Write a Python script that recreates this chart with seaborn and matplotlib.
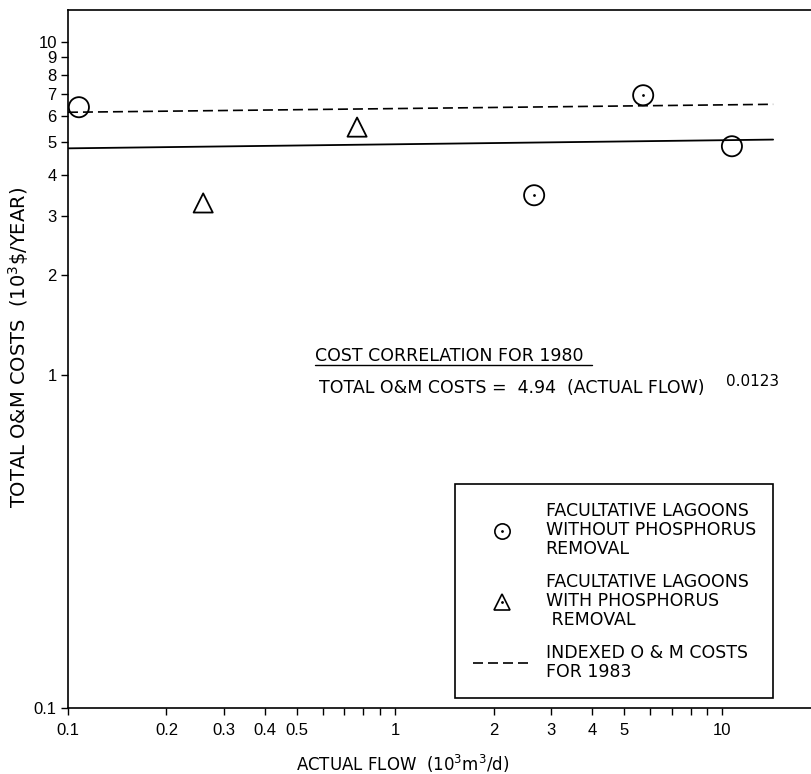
import matplotlib
matplotlib.use("Agg")
import matplotlib.pyplot as plt
import seaborn as sns
from matplotlib.lines import Line2D
from matplotlib.ticker import FixedLocator, NullFormatter, FixedFormatter

# data (log-log axes)
flow_without = [0.108, 2.66, 5.73, 10.7]
cost_without = [6.38, 3.47, 6.93, 4.87]
dotted_without = [False, True, True, False]
flow_with = [0.259, 0.765]
cost_with = [3.29, 5.56]
line_flow = [0.1, 14.3]
cost_1980 = [4.80, 5.10]
cost_1983 = [6.16, 6.51]

x_ticks = [0.1, 0.2, 0.3, 0.4, 0.5, 1, 2, 3, 4, 5, 10]
x_tick_labels = ["0.1", "0.2", "0.3", "0.4", "0.5", "1", "2", "3", "4", "5", "10"]
x_minor = [0.6, 0.7, 0.8, 0.9, 6, 7, 8, 9]
y_ticks = [0.1, 1, 2, 3, 4, 5, 6, 7, 8, 9, 10]
y_tick_labels = ["0.1", "1", "2", "3", "4", "5", "6", "7", "8", "9", "10"]

sns.set_style("white")
plt.rcParams["font.family"] = ["DejaVu Sans"]
plt.rcParams["text.color"] = "black"
plt.rcParams["axes.labelcolor"] = "black"
plt.rcParams["xtick.color"] = "black"
plt.rcParams["ytick.color"] = "black"
TICK_FONT = ["Liberation Sans", "DejaVu Sans"]

fig = plt.figure(figsize=(8.12, 7.74), dpi=100)
ax = fig.add_axes([0.0837, 0.0853, 0.9163, 0.9018])
ax.set_xscale("log")
ax.set_yscale("log")

sns.lineplot(x=line_flow, y=cost_1980, ax=ax, color="black", lw=1.3)
sns.lineplot(x=line_flow, y=cost_1983, ax=ax, color="black", lw=1.2,
             linestyle=(0, (6, 3)))
sns.scatterplot(x=flow_without, y=cost_without, ax=ax, marker="o", s=210,
                facecolor="none", edgecolor="black", linewidth=1.3, zorder=5)
sns.scatterplot(x=[f for f, d in zip(flow_without, dotted_without) if d],
                y=[c for c, d in zip(cost_without, dotted_without) if d],
                ax=ax, marker="o", s=4, color="black", linewidth=0, zorder=6)
sns.scatterplot(x=flow_with, y=cost_with, ax=ax, marker="^", s=190,
                facecolor="none", edgecolor="black", linewidth=1.3, zorder=5)

ax.set_xlim(0.1, 18.8)
ax.set_ylim(0.1, 12.5)

ax.xaxis.set_major_locator(FixedLocator(x_ticks))
ax.xaxis.set_major_formatter(FixedFormatter(x_tick_labels))
ax.xaxis.set_minor_locator(FixedLocator(x_minor))
ax.xaxis.set_minor_formatter(NullFormatter())
ax.yaxis.set_major_locator(FixedLocator(y_ticks))
ax.yaxis.set_major_formatter(FixedFormatter(y_tick_labels))
ax.yaxis.set_minor_locator(FixedLocator([]))

ax.tick_params(axis="both", which="both", direction="out", length=5, width=1,
               color="black", labelcolor="black", labelsize=12,
               bottom=True, left=True)
ax.tick_params(axis="x", pad=6)
ax.tick_params(axis="y", pad=3)
for lbl in ax.get_xticklabels() + ax.get_yticklabels():
    lbl.set_family(TICK_FONT)

for side in ["left", "bottom", "top"]:
    ax.spines[side].set_color("black")
    ax.spines[side].set_linewidth(1.2)
ax.spines["right"].set_visible(False)

ax.set_xlabel("ACTUAL FLOW  (10$^3$m$^3$/d)", fontsize=12)
ax.xaxis.set_label_coords(0.45, -0.065)
ax.set_ylabel("TOTAL O&M COSTS  (10$^3$\\$/YEAR)", fontsize=14)
ax.yaxis.set_label_coords(-0.05, 0.516)

# correlation note
ax.text(0.332, 0.497, "COST CORRELATION FOR 1980", transform=ax.transAxes,
        fontsize=12.5, va="baseline", ha="left")
ax.plot([0.332, 0.704], [0.491, 0.491], transform=ax.transAxes,
        color="black", lw=1)
ax.text(0.337, 0.458, "TOTAL O&M COSTS =  4.94  (ACTUAL FLOW)",
        transform=ax.transAxes, fontsize=12.5, va="center", ha="left")
ax.text(0.884, 0.468, "0.0123", transform=ax.transAxes, fontsize=11,
        va="center", ha="left")

handles = [
    (Line2D([], [], marker="o", ms=11, mfc="none", mec="black", mew=1.2, ls="none"),
     Line2D([], [], marker=".", ms=2, color="black", ls="none")),
    (Line2D([], [], marker="^", ms=11, mfc="none", mec="black", mew=1.2, ls="none"),
     Line2D([], [], marker=".", ms=2, color="black", ls="none")),
    Line2D([], [], color="black", lw=1.2, ls=(0, (6, 3))),
]
labels = [
    "FACULTATIVE LAGOONS\nWITHOUT PHOSPHORUS\nREMOVAL",
    "FACULTATIVE LAGOONS\nWITH PHOSPHORUS\n REMOVAL",
    "INDEXED O & M COSTS\nFOR 1983",
]
leg = ax.legend(handles, labels, loc="lower right", bbox_to_anchor=(0.948, 0.0143),
                fontsize=12.5, frameon=True, fancybox=False, framealpha=1,
                edgecolor="black", handlelength=3.4, handletextpad=0.8,
                borderpad=1.0, labelspacing=0.85, borderaxespad=0)
leg.get_frame().set_linewidth(1.2)
for t in leg.get_texts():
    t.set_linespacing(1.08)
    t.set_color("black")

fig.savefig("out.png", dpi=100)
